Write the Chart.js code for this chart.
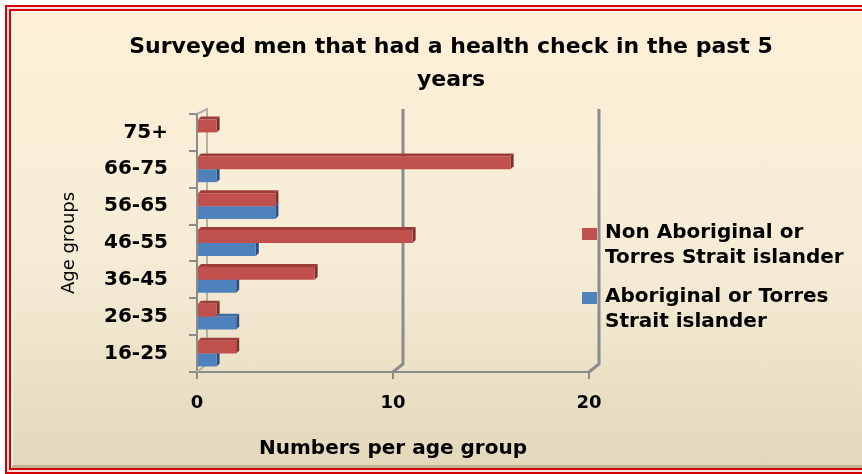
<!DOCTYPE html>
<html>
<head>
<meta charset="utf-8">
<script src="https://cdn.jsdelivr.net/npm/chart.js@4/dist/chart.umd.min.js"></script>
<style>
    html, body { margin: 0; padding: 0; background: #fff; overflow: hidden; }
    #wrap { position: relative; width: 862px; height: 474px; overflow: hidden; }
    #frame {
        position: absolute; left: 5px; top: 5px; width: 900px; height: 469px;
        box-sizing: border-box; border: 6px double #d40000; background: #f6dede;
    }
    #panel {
        position: absolute; left: 0; top: 0; right: 0; bottom: 0;
        border-top: 2px solid #fffaf2; border-left: 2px solid #fffaf2; border-bottom: 3px solid #bdb397;
        background: linear-gradient(to bottom, #fdf0d7 0%, #f6ecd6 55%, #e3d8ba 100%);
    }
    #chart { position: absolute; left: 0; top: 0; }
</style>
</head>
<body>
<div id="wrap">
    <div id="frame"><div id="panel"></div></div>
    <canvas id="chart" width="862" height="474"></canvas>
</div>
<script>
// данные (снизу вверх, как в исходной диаграмме)
const categories = ['16-25', '26-35', '36-45', '46-55', '56-65', '66-75', '75+'];
const nonAboriginal = [2, 1, 6, 11, 4, 16, 1];
const aboriginal = [1, 2, 2, 3, 4, 1, 0];
const seriesNames = ['Non Aboriginal or Torres Strait islander', 'Aboriginal or Torres Strait islander'];
const chartTitle = ['Surveyed men that had a health check in the past 5', 'years'];
const xTitle = 'Numbers per age group';
const yTitle = 'Age groups';

const FONT = "'DejaVu Sans', sans-serif";
const RED = '#c0504d';
const BLUE = '#4f81bd';
const AXIS = '#8c8c8c';

// "объём" столбцов и задняя стенка
const wall3d = {
    id: 'wall3d',
    beforeDatasetsDraw(chart) {
        const ctx = chart.ctx;
        const {top, bottom, left} = chart.chartArea;
        const x = chart.scales.x;
        const D = 10;
        ctx.save();
        // левая стенка
        ctx.strokeStyle = '#b4b0a6';
        ctx.lineWidth = 2;
        ctx.beginPath();
        ctx.moveTo(left, top);
        ctx.lineTo(left + D, top - 5);
        ctx.lineTo(left + D, bottom - 8);
        ctx.lineTo(left, bottom);
        ctx.stroke();
        // линии сетки на задней стенке
        ctx.strokeStyle = AXIS;
        ctx.lineWidth = 3;
        x.ticks.forEach(t => {
            if (t.value === x.min) return;
            const px = x.getPixelForValue(t.value);
            ctx.beginPath();
            ctx.moveTo(px + D, top - 5);
            ctx.lineTo(px + D, bottom - 8);
            ctx.lineTo(px, bottom);
            ctx.stroke();
        });
        // грани столбцов
        const d = 3;
        chart.data.datasets.forEach((ds, i) => {
            const meta = chart.getDatasetMeta(i);
            meta.data.forEach(bar => {
                const p = bar.getProps(['x', 'y', 'base', 'height'], true);
                if (Math.abs(p.x - p.base) < 0.5) return;
                const y0 = p.y - p.height / 2;
                const y1 = p.y + p.height / 2;
                ctx.fillStyle = ds.topColor;
                ctx.beginPath();
                ctx.moveTo(p.base, y0);
                ctx.lineTo(p.base + d, y0 - d);
                ctx.lineTo(p.x + d, y0 - d);
                ctx.lineTo(p.x, y0);
                ctx.closePath();
                ctx.fill();
                ctx.fillStyle = ds.sideColor;
                ctx.beginPath();
                ctx.moveTo(p.x, y0);
                ctx.lineTo(p.x + d, y0 - d);
                ctx.lineTo(p.x + d, y1 - d);
                ctx.lineTo(p.x, y1);
                ctx.closePath();
                ctx.fill();
            });
        });
        ctx.restore();
    }
};

// легенда в две строки
const wrapLegend = {
    id: 'wrapLegend',
    afterDraw(chart) {
        const ctx = chart.ctx;
        const area = chart.chartArea;
        const size = 20;
        const lineH = 25;
        ctx.save();
        ctx.font = 'bold ' + size + 'px ' + FONT;
        ctx.textBaseline = 'middle';
        ctx.textAlign = 'left';
        let y = area.top + 119;
        chart.data.datasets.forEach(ds => {
            const words = ds.label.split(' ');
            const lines = [];
            let cur = '';
            words.forEach(w => {
                const test = cur ? cur + ' ' + w : w;
                if (ctx.measureText(test).width > 250 && cur) {
                    lines.push(cur);
                    cur = w;
                } else {
                    cur = test;
                }
            });
            lines.push(cur);
            const bx = area.right - 7;
            ctx.fillStyle = ds.backgroundColor;
            ctx.fillRect(bx, y - 5, 15, 12);
            ctx.fillStyle = '#000';
            lines.forEach((l, k) => ctx.fillText(l, bx + 23, y + k * lineH));
            y += lines.length * lineH + 14;
        });
        ctx.restore();
    }
};

new Chart(document.getElementById('chart'), {
    type: 'bar',
    data: {
        labels: categories,
        datasets: [
            {label: seriesNames[0], data: nonAboriginal, backgroundColor: RED, topColor: '#9e3e3b', sideColor: '#7e2f2d'},
            {label: seriesNames[1], data: aboriginal, backgroundColor: BLUE, topColor: '#3f6ca3', sideColor: '#2c4f7c'}
        ]
    },
    options: {
        indexAxis: 'y',
        responsive: false,
        animation: false,
        devicePixelRatio: 1,
        layout: {padding: {left: 40, right: 0, top: 0, bottom: 0}},
        datasets: {bar: {barPercentage: 1, categoryPercentage: 0.7}},
        plugins: {
            legend: {display: false},
            tooltip: {enabled: false},
            title: {
                display: true,
                text: chartTitle,
                color: '#000',
                font: {family: FONT, size: 22, weight: 'bold', lineHeight: 1.5},
                padding: {top: 31, bottom: 17}
            }
        },
        scales: {
            x: {
                min: 0, max: 20,
                ticks: {stepSize: 10, color: '#000', padding: 14, font: {family: FONT, size: 18, weight: 'bold'}},
                grid: {drawOnChartArea: false, tickLength: 7, color: AXIS, lineWidth: 2},
                border: {color: AXIS, width: 2},
                title: {display: true, text: xTitle, color: '#000', padding: {bottom: 13}, font: {family: FONT, size: 20, weight: 'bold'}},
                afterFit(s) { s.height = 102; }
            },
            y: {
                reverse: true,
                ticks: {color: '#000', padding: 21, font: {family: FONT, size: 20, weight: 'bold'}},
                grid: {drawOnChartArea: false, tickLength: 8, color: AXIS, lineWidth: 2},
                border: {color: AXIS, width: 2},
                title: {display: true, text: yTitle, color: '#000', padding: {top: 19}, font: {family: FONT, size: 18}},
                afterFit(s) { s.width = 157; }
            },
            yr: {
                type: 'linear',
                position: 'right',
                ticks: {display: false},
                grid: {display: false},
                border: {display: false},
                afterFit(s) { s.width = 273; }
            }
        }
    },
    plugins: [wall3d, wrapLegend]
});
</script>
</body>
</html>
